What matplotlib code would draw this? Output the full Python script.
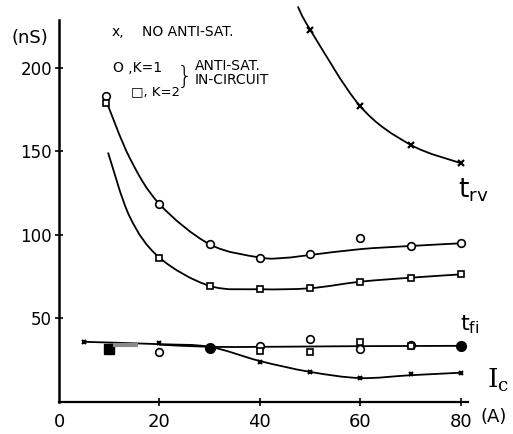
import matplotlib
matplotlib.use("Agg")
import matplotlib.pyplot as plt
from matplotlib.path import Path
from matplotlib.patches import PathPatch

# ---------------- data ----------------
# t_rv, no anti-saturation circuit (x markers)
trv_nosat_x = [50, 60, 70, 80]
trv_nosat_y = [223, 177, 154, 143]
trv_nosat_curve_x = [47.6, 50, 60, 70, 80]
trv_nosat_curve_y = [236.5, 223, 177, 154, 143]

# t_rv, anti-sat k=1 (circles)
trv_k1_x = [9.3, 20, 30, 40, 50, 60, 70, 80]
trv_k1_y = [183, 118.5, 94.4, 86.4, 88.6, 98.4, 93.4, 95]
trv_k1_curve_x = [9.3, 14.1, 20, 30, 40, 45, 50, 60, 70, 80]
trv_k1_curve_y = [181, 146, 118.5, 94.4, 86.5, 86.3, 88, 91.5, 93.4, 95]

# t_rv, anti-sat k=2 (squares)
trv_k2_x = [9.3, 20, 30, 40, 50, 60, 70, 80]
trv_k2_y = [179, 86.4, 69.5, 67.5, 68.1, 72, 74.4, 76.4]
trv_k2_curve_x = [9.8, 14.1, 20, 30, 40, 50, 60, 70, 80]
trv_k2_curve_y = [149, 110.8, 86.4, 69.5, 67.5, 68.1, 72, 74.4, 76.4]

# t_fi (Ic curve), no anti-sat (x markers)
tfi_nosat_x = [5, 20, 30, 40, 50, 60, 70, 80]
tfi_nosat_y = [36, 35.3, 33, 24, 18, 14.3, 16.5, 17.2]
tfi_nosat_curve_x = [5, 20, 30, 40, 50, 60, 70, 80]
tfi_nosat_curve_y = [36, 34.6, 33, 24.5, 18, 14.3, 16, 17.5]

# t_fi, anti-sat flat line
tfi_sat_curve_x = [20, 30, 40, 50, 60, 70, 80]
tfi_sat_curve_y = [34.3, 33, 33, 33.2, 33.4, 33.5, 33.6]

# t_fi, k=1 circles (open / filled)
tfi_k1_x = [20, 40, 50, 60, 70]
tfi_k1_y = [30, 33.5, 37.5, 31.7, 34]
tfi_k1_filled_x = [30, 80]
tfi_k1_filled_y = [32.5, 33.5]

# t_fi, k=2 squares (open / filled)
tfi_k2_x = [40, 50, 60, 70]
tfi_k2_y = [30.5, 30, 36, 33.5]
tfi_k2_filled_x = [10]
tfi_k2_filled_y = [32]

y_ticks = [50, 100, 150, 200]
y_ticklabels = ["50", "100", "150", "200"]
x_ticks = [0, 20, 40, 60, 80]
x_ticklabels = ["0", "20", "40", "60", "80"]

# ---------------- figure ----------------
plt.rcParams['font.family'] = ['DejaVu Sans']
fig = plt.figure(figsize=(5.13, 4.34), dpi=100)
ax = fig.add_axes([0, 0, 1, 1])
ax.set_xlim(-11.75, 90.4)
ax.set_ylim(-19.2, 240.7)
ax.patch.set_alpha(0)

for s in ("top", "right"):
    ax.spines[s].set_visible(False)
ax.spines["left"].set_position(("data", 0))
ax.spines["bottom"].set_position(("data", 0))
ax.spines["left"].set_bounds(0, 229)
ax.spines["bottom"].set_bounds(0, 81.5)
ax.spines["left"].set_linewidth(1.8)
ax.spines["bottom"].set_linewidth(1.6)

ax.set_yticks(y_ticks)
ax.set_yticklabels(y_ticklabels)
ax.set_xticks(x_ticks)
ax.set_xticklabels(x_ticklabels)
ax.tick_params(axis="y", direction="inout", length=6, width=1.2, pad=2, labelsize=12)
ax.tick_params(axis="x", direction="inout", length=6, width=1.2, pad=5, labelsize=13)
ax.xaxis.get_major_ticks()[0].tick1line.set_visible(False)


def smooth_curve(xs, ys, lw=1.3):
    """Catmull-Rom curve through points drawn as cubic Bezier path."""
    pts = list(zip(xs, ys))
    n = len(pts)
    verts = [pts[0]]
    codes = [Path.MOVETO]
    for i in range(n - 1):
        p0 = pts[i - 1] if i > 0 else pts[i]
        p1 = pts[i]
        p2 = pts[i + 1]
        p3 = pts[i + 2] if i + 2 < n else pts[i + 1]
        c1 = (p1[0] + (p2[0] - p0[0]) / 6.0, p1[1] + (p2[1] - p0[1]) / 6.0)
        c2 = (p2[0] - (p3[0] - p1[0]) / 6.0, p2[1] - (p3[1] - p1[1]) / 6.0)
        verts += [c1, c2, p2]
        codes += [Path.CURVE4] * 3
    ax.add_patch(PathPatch(Path(verts, codes), facecolor="none",
                           edgecolor="black", lw=lw, capstyle="round"))


smooth_curve(trv_nosat_curve_x, trv_nosat_curve_y)
smooth_curve(trv_k1_curve_x, trv_k1_curve_y)
smooth_curve(trv_k2_curve_x, trv_k2_curve_y)
smooth_curve(tfi_nosat_curve_x, tfi_nosat_curve_y)
smooth_curve(tfi_sat_curve_x, tfi_sat_curve_y)

mk = dict(linestyle="none", color="black")
ax.plot(trv_nosat_x, trv_nosat_y, marker="x", ms=4, mew=1.6, **mk)
ax.plot(trv_k1_x, trv_k1_y, marker="o", ms=5.5, mfc="white", mew=1.2, **mk)
ax.plot(trv_k2_x, trv_k2_y, marker="s", ms=5, mfc="white", mew=1.2, **mk)
ax.plot(tfi_nosat_x, tfi_nosat_y, marker="x", ms=3.5, mew=1.5, **mk)
ax.plot(tfi_k1_x, tfi_k1_y, marker="o", ms=5.5, mfc="white", mew=1.2, **mk)
ax.plot(tfi_k1_filled_x, tfi_k1_filled_y, marker="o", ms=7, mfc="black", **mk)
ax.plot(tfi_k2_x, tfi_k2_y, marker="s", ms=5, mfc="white", mew=1.2, **mk)
ax.plot(tfi_k2_filled_x, tfi_k2_filled_y, marker="s", ms=7, mfc="black", **mk)
ax.plot([10.8, 15.7], [33.8, 33.8], color="#8a8a8a", lw=3, solid_capstyle="butt")

# ---------------- texts ----------------
ax.text(-5.9, 218, "(nS)", fontsize=13, ha="center", va="center")
ax.text(84.0, -9, "(A)", fontsize=13, ha="left", va="center")

ax.text(10.4, 221.6, "x,", fontsize=10, ha="left", va="center")
ax.text(16.5, 221.6, "NO ANTI-SAT.", fontsize=10, ha="left", va="center")
ax.text(10.8, 200, "O ,K=1", fontsize=10, ha="left", va="center")
ax.text(14.3, 185.6, "\u25a1, K=2", fontsize=9.5, ha="left", va="center")
ax.text(25.0, 194.3, "}", fontsize=18, ha="center", va="center", fontweight="light")
ax.text(27.0, 201.2, "ANTI-SAT.", fontsize=10, ha="left", va="center")
ax.text(27.0, 192.8, "IN-CIRCUIT", fontsize=10, ha="left", va="center")

ax.text(79.5, 122.2, r"$\mathrm{t_{rv}}$", fontsize=19, ha="left", va="baseline")
ax.text(79.9, 43, r"$\mathrm{t_{fi}}$", fontsize=16, ha="left", va="baseline")
ax.text(85.2, 8.4, r"$\mathrm{I_c}$", fontsize=19, ha="left", va="baseline",
        math_fontfamily="dejavuserif")

fig.savefig("out.png", dpi=100)
